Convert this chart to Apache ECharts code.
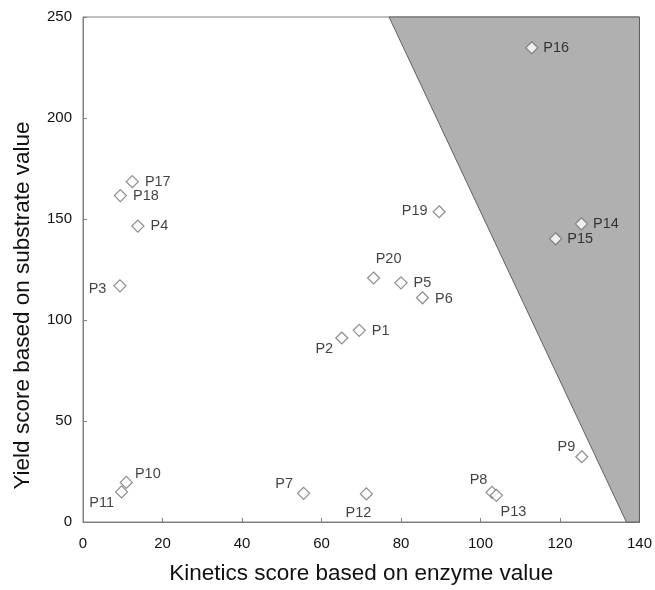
<!DOCTYPE html>
<html>
<head>
<meta charset="utf-8">
<script src="https://cdn.jsdelivr.net/npm/echarts@6/dist/echarts.min.js"></script>
<style>html,body{margin:0;padding:0;background:#fff;}#c{width:655px;height:590px;}</style>
</head>
<body>
<div id="c"></div>
<script>
var names = ['P1','P2','P3','P4','P5','P6','P7','P8','P9','P10','P11','P12','P13','P14','P15','P16','P17','P18','P19','P20'];
var kinetics = [69.5,65.1,9.3,13.8,80.0,85.4,55.5,102.9,125.5,10.9,9.7,71.3,104.0,125.4,118.9,112.9,12.4,9.4,89.6,73.1];
var yieldScore = [94.9,91.1,116.9,146.5,118.4,111.0,14.2,14.7,32.3,19.6,14.9,13.9,13.2,147.6,140.2,234.8,168.5,161.6,153.6,120.8];
var shadeX = [77.0,140,140,136.7];
var shadeY = [250,250,0,0];
var xTicks = [0,20,40,60,80,100,120,140];
var yTicks = [0,50,100,150,200,250];

var labelPlace = {
  P1:['right',[1,1]], P2:['left',[3,11]], P3:['left',[-2,3]], P4:['right',[1,0]],
  P5:['right',[1,0]], P6:['right',[1,1]], P7:['left',[1,-9]], P8:['left',[7,-12]],
  P9:['left',[5,-10]], P10:['right',[-3,-8]], P11:['left',[4,11]], P12:['bottom',[-8,0]],
  P13:['bottom',[17,-2]], P14:['right',[0,0]], P15:['right',[0,0]], P16:['right',[0,0]],
  P17:['right',[1,0]], P18:['right',[1,0]], P19:['left',[0,-1]], P20:['top',[15,0]]
};

var pts = names.map(function(n,i){
  var lp = labelPlace[n];
  return {name:n, value:[kinetics[i], yieldScore[i]],
    label:{position:lp[0], offset:lp[1]}};
});

var chart = echarts.init(document.getElementById('c'), null, {renderer:'canvas'});
var font = 'Liberation Sans, Arial, sans-serif';
chart.setOption({
  animation:false,
  grid:{left:83, right:14, top:17, bottom:62, show:true, borderColor:'#808080', borderWidth:1},
  xAxis:{
    type:'value', min:0, max:140, interval:20,
    name:'Kinetics score based on enzyme value', nameLocation:'middle', nameGap:40,
    nameTextStyle:{fontFamily:font, fontSize:22.5, color:'#111'},
    axisLine:{show:true, lineStyle:{color:'#808080'}},
    axisTick:{show:true, inside:true, length:4, lineStyle:{color:'#808080'}},
    axisLabel:{fontFamily:font, fontSize:15, color:'#111', margin:14},
    splitLine:{show:false}
  },
  yAxis:{
    type:'value', min:0, max:250, interval:50,
    name:'Yield score based on substrate value', nameLocation:'middle', nameGap:49,
    nameTextStyle:{fontFamily:font, fontSize:22.5, color:'#111', padding:[0,72,0,0]},
    axisLine:{show:true, lineStyle:{color:'#808080'}},
    axisTick:{show:true, inside:true, length:4, lineStyle:{color:'#808080'}},
    axisLabel:{fontFamily:font, fontSize:15, color:'#111', margin:11},
    splitLine:{show:false}
  },
  series:[
    {
      type:'custom', silent:true, z:1,
      data:[0],
      renderItem:function(params, api){
        var p = shadeX.map(function(x,i){ return api.coord([x, shadeY[i]]); });
        return {type:'polygon', shape:{points:p},
          style:{fill:'#b0b0b0', stroke:'#606060', lineWidth:1}};
      }
    },
    {
      type:'scatter', z:3, symbol:'diamond', symbolSize:12,
      itemStyle:{color:'#ffffff', borderColor:'#707070', borderWidth:1.2},
      label:{show:true, formatter:'{b}', fontFamily:font, fontSize:14.5, color:'#111', distance:5},
      data:pts
    }
  ]
});
</script>
</body>
</html>
